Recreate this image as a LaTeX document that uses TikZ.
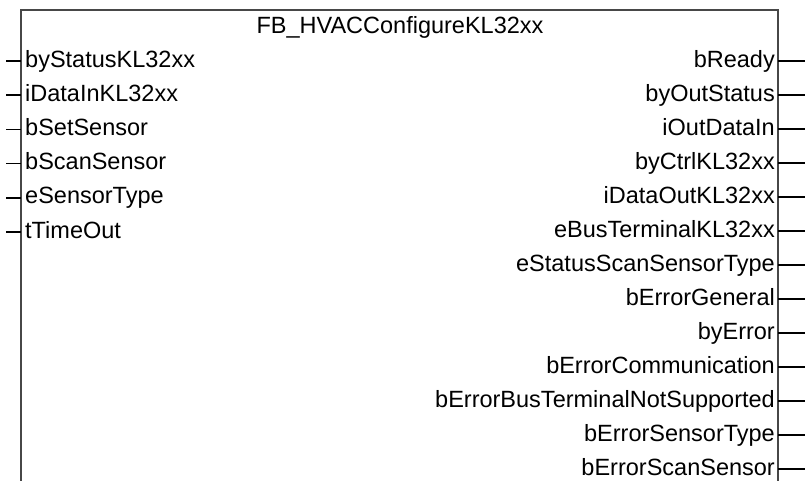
\documentclass[tikz,border=0pt]{standalone}
\usepackage{fontspec}
\setmainfont{Liberation Sans}
\begin{document}
\begin{tikzpicture}[x=1pt,y=-1pt,
  pintext/.style={inner sep=0pt, font=\fontsize{23.5}{28}\selectfont, text=black},
  pinl/.style={pintext, anchor=base west},
  pinr/.style={pintext, anchor=base east},
  titletext/.style={pintext, anchor=base},
  stub/.style={line width=1.6pt, draw=black},
  frame/.style={line width=2.6pt, draw=black!72}]
\useasboundingbox (0,0) rectangle (805,480);
\fill[white] (0,0) rectangle (805,480);
\clip (0,0) rectangle (805,480);
\coordinate (tl) at (21,10);
\coordinate (br) at (778,520);
\draw[frame] (tl) rectangle (br);
\node[titletext] (title) at (400,33.5) {FB\_HVACConfigureKL32xx};
\foreach \nm [count=\i from 0] in {byStatusKL32xx,iDataInKL32xx,bSetSensor,bScanSensor,eSensorType,tTimeOut}{
  \coordinate (li\i) at (21,{61+34.2*\i});
  \coordinate (lo\i) at (6,{61+34.2*\i});
  \node[pinl] (lt\i) at (25,{67+34.2*\i}) {\nm};
  \draw[stub] (lo\i) -- (li\i);
}
\foreach \nm [count=\i from 0] in {bReady,byOutStatus,iOutDataIn,byCtrlKL32xx,iDataOutKL32xx,eBusTerminalKL32xx,eStatusScanSensorType,bErrorGeneral,byError,bErrorCommunication,bErrorBusTerminalNotSupported,bErrorSensorType,bErrorScanSensor}{
  \coordinate (ri\i) at (778,{61+34*\i});
  \coordinate (ro\i) at (806,{61+34*\i});
  \node[pinr] (rt\i) at (775,{67+34*\i}) {\nm};
  \draw[stub] (ri\i) -- (ro\i);
}
\end{tikzpicture}
\end{document}
